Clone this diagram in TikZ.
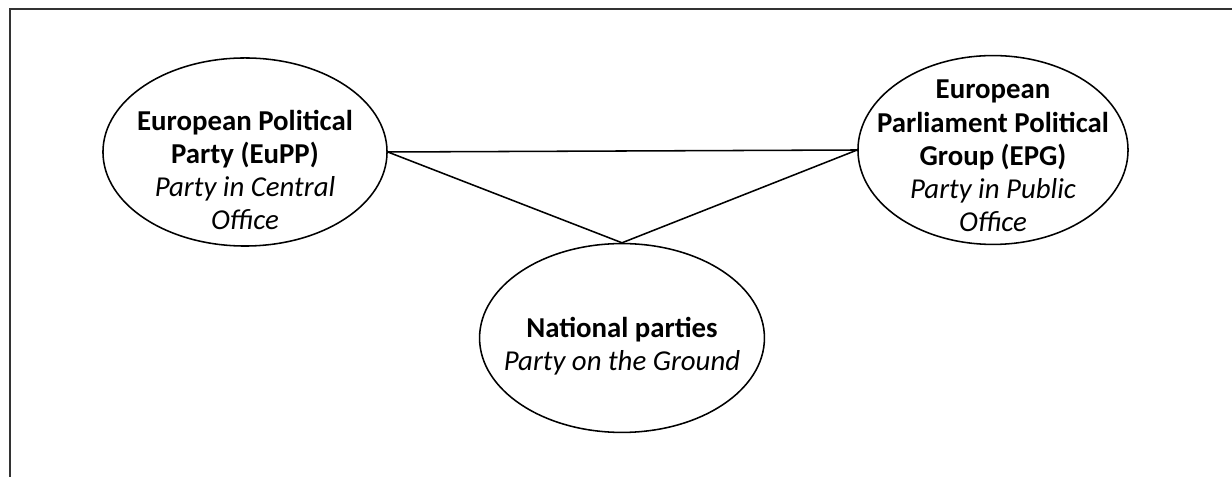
\documentclass[tikz,border=0pt]{standalone}
\usepackage{fontspec}
\setmainfont{Carlito}
\usetikzlibrary{shapes.geometric}
\tikzset{
  party/.style={draw, ellipse, line width=1.1pt, inner sep=0pt},
  partytext/.style={align=center, inner sep=0pt, font=\fontsize{20.5}{23.6}\selectfont},
  tie/.style={line width=1.1pt}
}
\begin{document}
\begin{tikzpicture}[x=0.025cm, y=-0.025cm]
		\useasboundingbox (0,0) rectangle (1232,477);
		
		% frame
		\draw[line width=1.8pt, color=black!80] (10,477) -- (10,9) -- (1232,9);
		
		% the three faces
		\node[party, minimum width=7.1cm, minimum height=4.7cm] (eupp) at (245,152) {};
		\node[party, minimum width=6.75cm, minimum height=4.72cm] (epg) at (993,150) {};
		\node[party, minimum width=7.12cm, minimum height=4.72cm] (natl) at (622,338) {};
		
		\node[partytext] (eupptext) at (245,170) {\textbf{European Political}\\\textbf{Party (EuPP)}\\\textit{Party in Central}\\\textit{Office}};
		\node[partytext] (epgtext) at (993,156) {\textbf{European}\\\textbf{Parliament Political}\\\textbf{Group (EPG)}\\\textit{Party in Public}\\\textit{Office}};
		\node[partytext] (natltext) at (622,346) {\textbf{National parties}\\\textit{Party on the Ground}};
		
		% links
		\draw[tie] (eupp.east) -- (epg.west);
		\draw[tie] (eupp.east) -- (natl.north);
		\draw[tie] (natl.north) -- (epg.west);
		
	\end{tikzpicture}
\end{document}
